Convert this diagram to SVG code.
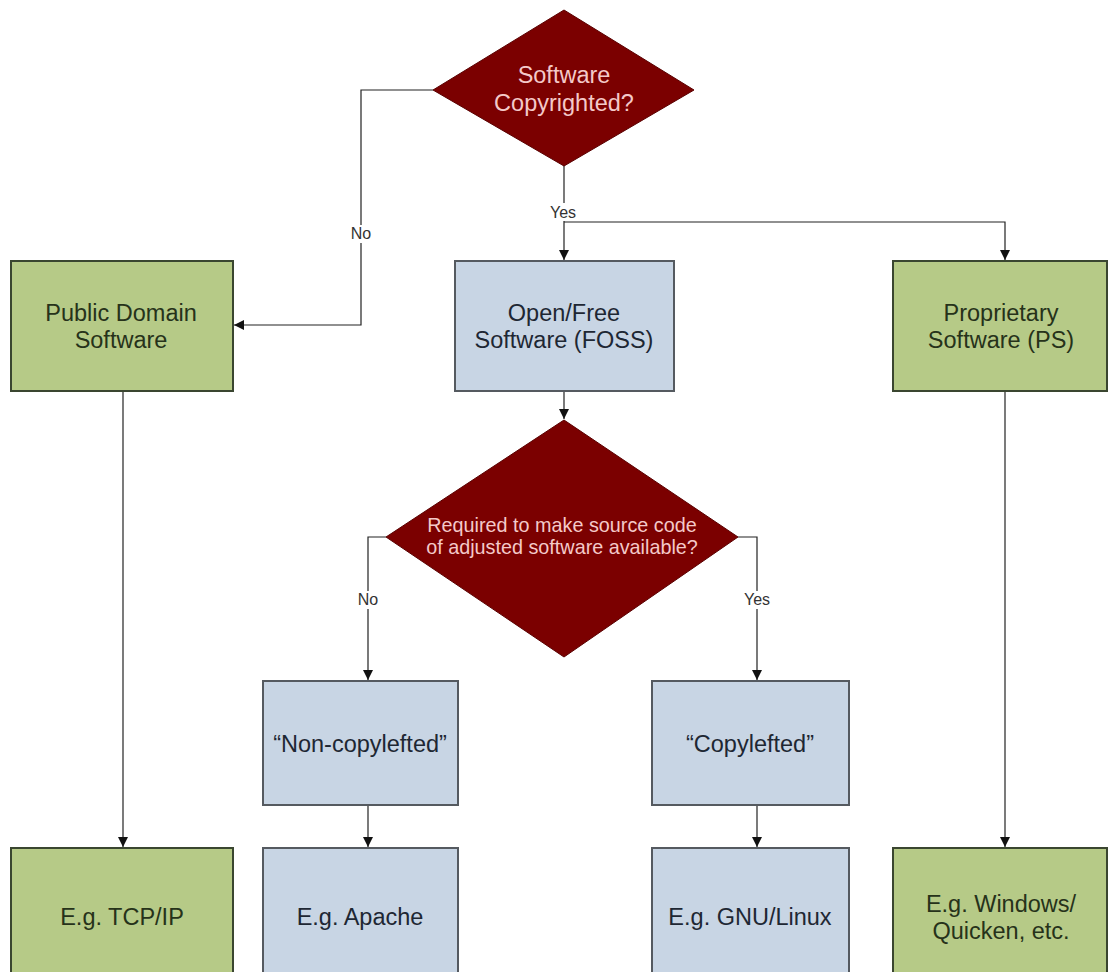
<svg xmlns="http://www.w3.org/2000/svg" width="1108" height="972" viewBox="0 0 1108 972">
<style>
.dia{fill:#7b0000;stroke:#5a0000;stroke-width:1}
.green{fill:#b6ca87;stroke:#3a4630;stroke-width:2}
.blue{fill:#c8d5e4;stroke:#555a60;stroke-width:2}
.t{font-family:"Liberation Sans",Arial,sans-serif;font-size:23.5px;text-anchor:middle}
.ts{font-family:"Liberation Sans",Arial,sans-serif;font-size:19.8px;text-anchor:middle}
.tg{fill:#26321a}
.tb{fill:#1e2733}
.td{fill:#f4c9c9}
.lbl{font-family:"Liberation Sans",Arial,sans-serif;font-size:16px;text-anchor:middle;fill:#333}
.c{fill:none;stroke:#222;stroke-width:1.2}
</style>
<defs>
<marker id="ah" viewBox="0 0 10 10" refX="10" refY="5" markerWidth="10" markerHeight="10" markerUnits="userSpaceOnUse" orient="auto">
<path d="M0,0 L10,5 L0,10 z" fill="#111"/>
</marker>
</defs>
<rect width="1108" height="972" fill="#fff"/>
<g id="connectors">
<path class="c" d="M433,90 H361 V325 H234" marker-end="url(#ah)"/>
<rect x="348" y="225" width="26" height="18" fill="#fff"/>
<text class="lbl" x="361" y="239">No</text>
<path class="c" d="M564,165 V260" marker-end="url(#ah)"/>
<rect x="546" y="203" width="36" height="18" fill="#fff"/>
<text class="lbl" x="563" y="218">Yes</text>
<path class="c" d="M564,222 H1005 V260" marker-end="url(#ah)"/>
<path class="c" d="M564,391 V419" marker-end="url(#ah)"/>
<path class="c" d="M386,537 H368 V680" marker-end="url(#ah)"/>
<rect x="355" y="591" width="26" height="18" fill="#fff"/>
<text class="lbl" x="368" y="605">No</text>
<path class="c" d="M738,537 H757 V680" marker-end="url(#ah)"/>
<rect x="739" y="591" width="36" height="18" fill="#fff"/>
<text class="lbl" x="757" y="605">Yes</text>
<path class="c" d="M123,391 V847" marker-end="url(#ah)"/>
<path class="c" d="M1005,391 V847" marker-end="url(#ah)"/>
<path class="c" d="M368,805 V847" marker-end="url(#ah)"/>
<path class="c" d="M757,805 V847" marker-end="url(#ah)"/>
</g>
<g id="copyrighted">
<polygon class="dia" points="564,10 694,90 564,166 433,90"/>
<text class="t td" x="564" y="83">Software</text>
<text class="t td" x="564" y="111">Copyrighted?</text>
</g>
<g id="public-domain">
<rect class="green" x="11" y="261" width="222" height="130"/>
<text class="t tg" x="121" y="321">Public Domain</text>
<text class="t tg" x="121" y="348">Software</text>
</g>
<g id="foss">
<rect class="blue" x="455" y="261" width="219" height="130"/>
<text class="t tb" x="564" y="321">Open/Free</text>
<text class="t tb" x="564" y="348">Software (FOSS)</text>
</g>
<g id="proprietary">
<rect class="green" x="893" y="261" width="214" height="130"/>
<text class="t tg" x="1001" y="321">Proprietary</text>
<text class="t tg" x="1001" y="348">Software (PS)</text>
</g>
<g id="source-required">
<polygon class="dia" points="564,420 738,537 564,657 386,537"/>
<text class="ts td" x="562" y="532">Required to make source code</text>
<text class="ts td" x="562" y="554">of adjusted software available?</text>
</g>
<g id="non-copylefted">
<rect class="blue" x="263" y="681" width="195" height="124"/>
<text class="t tb" x="360" y="752">“Non-copylefted”</text>
</g>
<g id="copylefted">
<rect class="blue" x="652" y="681" width="197" height="124"/>
<text class="t tb" x="750" y="752">“Copylefted”</text>
</g>
<g id="tcpip">
<rect class="green" x="11" y="848" width="222" height="130"/>
<text class="t tg" x="122" y="925">E.g. TCP/IP</text>
</g>
<g id="apache">
<rect class="blue" x="263" y="848" width="195" height="130"/>
<text class="t tb" x="360" y="925">E.g. Apache</text>
</g>
<g id="gnu-linux">
<rect class="blue" x="652" y="848" width="197" height="130"/>
<text class="t tb" x="750" y="925">E.g. GNU/Linux</text>
</g>
<g id="windows">
<rect class="green" x="893" y="848" width="214" height="130"/>
<text class="t tg" x="1001" y="912">E.g. Windows/</text>
<text class="t tg" x="1001" y="939">Quicken, etc.</text>
</g>
</svg>
